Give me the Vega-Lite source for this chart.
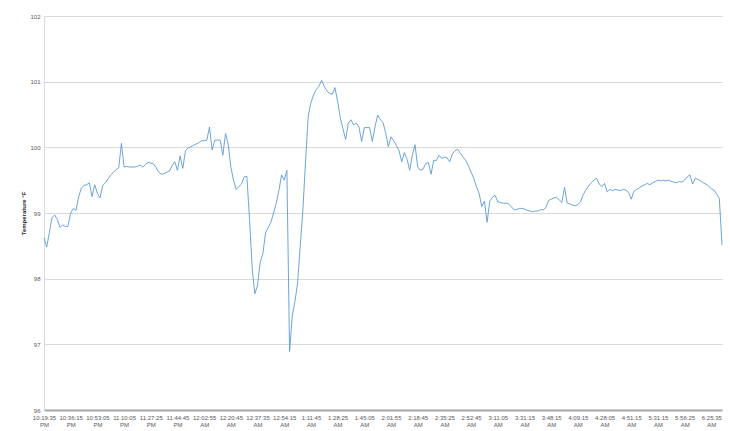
{
  "$schema": "https://vega.github.io/schema/vega-lite/v6.json",
  "width": 678,
  "height": 394,
  "autosize": {"type": "none"},
  "padding": {"left": 44, "top": 16, "right": 8, "bottom": 21},
  "background": "#ffffff",
  "config": {
    "view": {"stroke": null},
    "font": "Liberation Sans"
  },
  "data": {
    "values": [
      {"t":"10:19:35 PM","v":98.62},{"t":"10:21:15 PM","v":98.48},{"t":"10:22:55 PM","v":98.70},{"t":"10:24:35 PM","v":98.93},{"t":"10:26:15 PM","v":98.97},
      {"t":"10:27:55 PM","v":98.90},{"t":"10:29:35 PM","v":98.78},{"t":"10:31:15 PM","v":98.82},{"t":"10:32:55 PM","v":98.79},{"t":"10:34:35 PM","v":98.80},
      {"t":"10:36:15 PM","v":99.00},{"t":"10:37:55 PM","v":99.07},{"t":"10:39:35 PM","v":99.04},{"t":"10:41:15 PM","v":99.25},{"t":"10:42:55 PM","v":99.38},
      {"t":"10:44:35 PM","v":99.42},{"t":"10:46:15 PM","v":99.43},{"t":"10:47:55 PM","v":99.46},{"t":"10:49:35 PM","v":99.25},{"t":"10:51:15 PM","v":99.43},
      {"t":"10:53:05 PM","v":99.30},{"t":"10:54:45 PM","v":99.23},{"t":"10:56:25 PM","v":99.42},{"t":"10:58:05 PM","v":99.46},{"t":"10:59:45 PM","v":99.52},
      {"t":"11:01:25 PM","v":99.58},{"t":"11:03:05 PM","v":99.62},{"t":"11:04:45 PM","v":99.66},{"t":"11:06:25 PM","v":99.69},{"t":"11:08:05 PM","v":100.06},
      {"t":"11:10:05 PM","v":99.70},{"t":"11:11:45 PM","v":99.71},{"t":"11:13:25 PM","v":99.70},{"t":"11:15:05 PM","v":99.70},{"t":"11:16:45 PM","v":99.70},
      {"t":"11:18:25 PM","v":99.71},{"t":"11:20:05 PM","v":99.73},{"t":"11:21:45 PM","v":99.70},{"t":"11:23:25 PM","v":99.74},{"t":"11:25:05 PM","v":99.77},
      {"t":"11:27:25 PM","v":99.76},{"t":"11:29:05 PM","v":99.75},{"t":"11:30:45 PM","v":99.69},{"t":"11:32:25 PM","v":99.62},{"t":"11:34:05 PM","v":99.59},
      {"t":"11:35:45 PM","v":99.60},{"t":"11:37:25 PM","v":99.62},{"t":"11:39:05 PM","v":99.64},{"t":"11:40:45 PM","v":99.72},{"t":"11:42:25 PM","v":99.78},
      {"t":"11:44:45 PM","v":99.65},{"t":"11:46:35 PM","v":99.87},{"t":"11:48:25 PM","v":99.68},{"t":"11:50:15 PM","v":99.95},{"t":"11:52:05 PM","v":99.99},
      {"t":"11:53:55 PM","v":100.01},{"t":"11:55:45 PM","v":100.03},{"t":"11:57:35 PM","v":100.05},{"t":"11:59:25 PM","v":100.07},{"t":"12:01:15 AM","v":100.10},
      {"t":"12:02:55 AM","v":100.10},{"t":"12:04:45 AM","v":100.11},{"t":"12:06:35 AM","v":100.31},{"t":"12:08:25 AM","v":99.96},{"t":"12:10:15 AM","v":100.11},
      {"t":"12:12:05 AM","v":100.11},{"t":"12:13:55 AM","v":100.11},{"t":"12:15:45 AM","v":99.88},{"t":"12:17:35 AM","v":100.21},{"t":"12:19:25 AM","v":100.05},
      {"t":"12:20:45 AM","v":99.70},{"t":"12:22:25 AM","v":99.50},{"t":"12:24:05 AM","v":99.36},{"t":"12:25:45 AM","v":99.40},{"t":"12:27:25 AM","v":99.44},
      {"t":"12:29:05 AM","v":99.55},{"t":"12:30:45 AM","v":99.56},{"t":"12:32:25 AM","v":98.90},{"t":"12:34:05 AM","v":98.15},{"t":"12:35:45 AM","v":97.77},
      {"t":"12:37:35 AM","v":97.90},{"t":"12:39:15 AM","v":98.25},{"t":"12:40:55 AM","v":98.38},{"t":"12:42:35 AM","v":98.70},{"t":"12:44:15 AM","v":98.78},
      {"t":"12:45:55 AM","v":98.86},{"t":"12:47:35 AM","v":99.00},{"t":"12:49:15 AM","v":99.15},{"t":"12:50:55 AM","v":99.34},{"t":"12:52:35 AM","v":99.58},
      {"t":"12:54:15 AM","v":99.50},{"t":"12:56:00 AM","v":99.65},{"t":"12:57:45 AM","v":96.89},{"t":"12:59:30 AM","v":97.43},{"t":"1:01:15 AM","v":97.65},
      {"t":"1:03:00 AM","v":97.93},{"t":"1:04:45 AM","v":98.50},{"t":"1:06:30 AM","v":99.05},{"t":"1:08:15 AM","v":99.80},{"t":"1:10:00 AM","v":100.48},
      {"t":"1:11:45 AM","v":100.68},{"t":"1:13:25 AM","v":100.80},{"t":"1:15:05 AM","v":100.88},{"t":"1:16:45 AM","v":100.93},{"t":"1:18:25 AM","v":101.02},
      {"t":"1:20:05 AM","v":100.93},{"t":"1:21:45 AM","v":100.86},{"t":"1:23:25 AM","v":100.82},{"t":"1:25:05 AM","v":100.81},{"t":"1:26:45 AM","v":100.91},
      {"t":"1:28:25 AM","v":100.70},{"t":"1:30:05 AM","v":100.45},{"t":"1:31:45 AM","v":100.28},{"t":"1:33:25 AM","v":100.12},{"t":"1:35:05 AM","v":100.37},
      {"t":"1:36:45 AM","v":100.42},{"t":"1:38:25 AM","v":100.34},{"t":"1:40:05 AM","v":100.37},{"t":"1:41:45 AM","v":100.31},{"t":"1:43:25 AM","v":100.09},
      {"t":"1:45:05 AM","v":100.30},{"t":"1:46:45 AM","v":100.30},{"t":"1:48:25 AM","v":100.30},{"t":"1:50:05 AM","v":100.09},{"t":"1:51:45 AM","v":100.31},
      {"t":"1:53:25 AM","v":100.49},{"t":"1:55:05 AM","v":100.42},{"t":"1:56:45 AM","v":100.38},{"t":"1:58:25 AM","v":100.22},{"t":"2:00:05 AM","v":100.01},
      {"t":"2:01:55 AM","v":100.16},{"t":"2:03:35 AM","v":100.10},{"t":"2:05:15 AM","v":100.03},{"t":"2:06:55 AM","v":99.95},{"t":"2:08:35 AM","v":99.78},
      {"t":"2:10:15 AM","v":99.92},{"t":"2:11:55 AM","v":99.82},{"t":"2:13:35 AM","v":99.65},{"t":"2:15:15 AM","v":99.88},{"t":"2:16:55 AM","v":100.04},
      {"t":"2:18:45 AM","v":99.70},{"t":"2:20:25 AM","v":99.65},{"t":"2:22:05 AM","v":99.67},{"t":"2:23:45 AM","v":99.75},{"t":"2:25:25 AM","v":99.77},
      {"t":"2:27:05 AM","v":99.59},{"t":"2:28:45 AM","v":99.80},{"t":"2:30:25 AM","v":99.80},{"t":"2:32:05 AM","v":99.88},{"t":"2:33:45 AM","v":99.83},
      {"t":"2:35:25 AM","v":99.85},{"t":"2:37:05 AM","v":99.84},{"t":"2:38:45 AM","v":99.78},{"t":"2:40:25 AM","v":99.90},{"t":"2:42:05 AM","v":99.95},
      {"t":"2:43:45 AM","v":99.97},{"t":"2:45:25 AM","v":99.91},{"t":"2:47:05 AM","v":99.85},{"t":"2:48:45 AM","v":99.80},{"t":"2:50:25 AM","v":99.72},
      {"t":"2:52:45 AM","v":99.62},{"t":"2:54:35 AM","v":99.53},{"t":"2:56:25 AM","v":99.40},{"t":"2:58:15 AM","v":99.30},{"t":"3:00:05 AM","v":99.10},
      {"t":"3:01:55 AM","v":99.18},{"t":"3:03:45 AM","v":98.86},{"t":"3:05:35 AM","v":99.18},{"t":"3:07:25 AM","v":99.24},{"t":"3:09:15 AM","v":99.27},
      {"t":"3:11:05 AM","v":99.17},{"t":"3:13:05 AM","v":99.16},{"t":"3:15:05 AM","v":99.15},{"t":"3:17:05 AM","v":99.15},{"t":"3:19:05 AM","v":99.14},
      {"t":"3:21:05 AM","v":99.10},{"t":"3:23:05 AM","v":99.05},{"t":"3:25:05 AM","v":99.05},{"t":"3:27:05 AM","v":99.07},{"t":"3:29:05 AM","v":99.07},
      {"t":"3:31:15 AM","v":99.06},{"t":"3:32:55 AM","v":99.04},{"t":"3:34:35 AM","v":99.03},{"t":"3:36:15 AM","v":99.02},{"t":"3:37:55 AM","v":99.03},
      {"t":"3:39:35 AM","v":99.03},{"t":"3:41:15 AM","v":99.05},{"t":"3:42:55 AM","v":99.05},{"t":"3:44:35 AM","v":99.08},{"t":"3:46:15 AM","v":99.19},
      {"t":"3:48:15 AM","v":99.21},{"t":"3:50:20 AM","v":99.23},{"t":"3:52:25 AM","v":99.24},{"t":"3:54:30 AM","v":99.20},{"t":"3:56:35 AM","v":99.16},
      {"t":"3:58:40 AM","v":99.39},{"t":"4:00:45 AM","v":99.15},{"t":"4:02:50 AM","v":99.14},{"t":"4:04:55 AM","v":99.12},{"t":"4:07:00 AM","v":99.11},
      {"t":"4:09:15 AM","v":99.13},{"t":"4:11:05 AM","v":99.17},{"t":"4:12:55 AM","v":99.28},{"t":"4:14:45 AM","v":99.35},{"t":"4:16:35 AM","v":99.41},
      {"t":"4:18:25 AM","v":99.46},{"t":"4:20:15 AM","v":99.50},{"t":"4:22:05 AM","v":99.53},{"t":"4:23:55 AM","v":99.44},{"t":"4:25:45 AM","v":99.40},
      {"t":"4:28:05 AM","v":99.45},{"t":"4:30:25 AM","v":99.32},{"t":"4:32:45 AM","v":99.36},{"t":"4:35:05 AM","v":99.34},{"t":"4:37:25 AM","v":99.36},
      {"t":"4:39:45 AM","v":99.35},{"t":"4:42:05 AM","v":99.34},{"t":"4:44:25 AM","v":99.36},{"t":"4:46:45 AM","v":99.35},{"t":"4:49:05 AM","v":99.31},
      {"t":"4:51:15 AM","v":99.21},{"t":"4:55:15 AM","v":99.33},{"t":"4:59:15 AM","v":99.36},{"t":"5:03:15 AM","v":99.38},{"t":"5:07:15 AM","v":99.41},
      {"t":"5:11:15 AM","v":99.43},{"t":"5:15:15 AM","v":99.45},{"t":"5:19:15 AM","v":99.43},{"t":"5:23:15 AM","v":99.46},{"t":"5:27:15 AM","v":99.48},
      {"t":"5:31:15 AM","v":99.50},{"t":"5:33:45 AM","v":99.49},{"t":"5:36:15 AM","v":99.50},{"t":"5:38:45 AM","v":99.49},{"t":"5:41:15 AM","v":99.50},
      {"t":"5:43:45 AM","v":99.48},{"t":"5:46:15 AM","v":99.47},{"t":"5:48:45 AM","v":99.46},{"t":"5:51:15 AM","v":99.48},{"t":"5:53:45 AM","v":99.47},
      {"t":"5:56:25 AM","v":99.50},{"t":"5:59:20 AM","v":99.55},{"t":"6:02:15 AM","v":99.58},{"t":"6:05:10 AM","v":99.44},{"t":"6:08:05 AM","v":99.53},
      {"t":"6:11:00 AM","v":99.51},{"t":"6:13:55 AM","v":99.49},{"t":"6:16:50 AM","v":99.46},{"t":"6:19:45 AM","v":99.44},{"t":"6:22:40 AM","v":99.41},
      {"t":"6:25:35 AM","v":99.37},{"t":"6:28:30 AM","v":99.35},{"t":"6:31:25 AM","v":99.29},{"t":"6:34:20 AM","v":99.22},{"t":"6:37:15 AM","v":98.51}
    ]
  },
  "mark": {"type": "line", "color": "#5b9bd5", "strokeWidth": 0.9},
  "encoding": {
    "x": {
      "field": "t",
      "type": "ordinal",
      "sort": null,
      "scale": {"type": "point", "padding": 0},
      "axis": {
        "title": null,
        "values": ["10:19:35 PM","10:36:15 PM","10:53:05 PM","11:10:05 PM","11:27:25 PM","11:44:45 PM","12:02:55 AM","12:20:45 AM","12:37:35 AM","12:54:15 AM","1:11:45 AM","1:28:25 AM","1:45:05 AM","2:01:55 AM","2:18:45 AM","2:35:25 AM","2:52:45 AM","3:11:05 AM","3:31:15 AM","3:48:15 AM","4:09:15 AM","4:28:05 AM","4:51:15 AM","5:31:15 AM","5:56:25 AM","6:25:35 AM"],
        "labelExpr": "split(datum.label, ' ')",
        "labelAngle": 0,
        "labelOverlap": false,
        "labelFontSize": 6,
        "labelLineHeight": 7,
        "labelColor": "#595959",
        "labelPadding": 4,
        "ticks": false,
        "grid": false,
        "domainColor": "#a6a6a6",
        "domainWidth": 2
      }
    },
    "y": {
      "field": "v",
      "type": "quantitative",
      "scale": {"domain": [96, 102], "nice": false, "zero": false},
      "axis": {
        "title": "Temperature °F",
        "titleFontSize": 6,
        "titleFontWeight": "bold",
        "titleColor": "#262626",
        "titlePadding": 3,
        "tickCount": 6,
        "labelFontSize": 6,
        "labelColor": "#595959",
        "labelPadding": 4,
        "ticks": false,
        "grid": true,
        "gridColor": "#d9d9d9",
        "gridWidth": 1,
        "domainColor": "#d9d9d9"
      }
    }
  }
}
